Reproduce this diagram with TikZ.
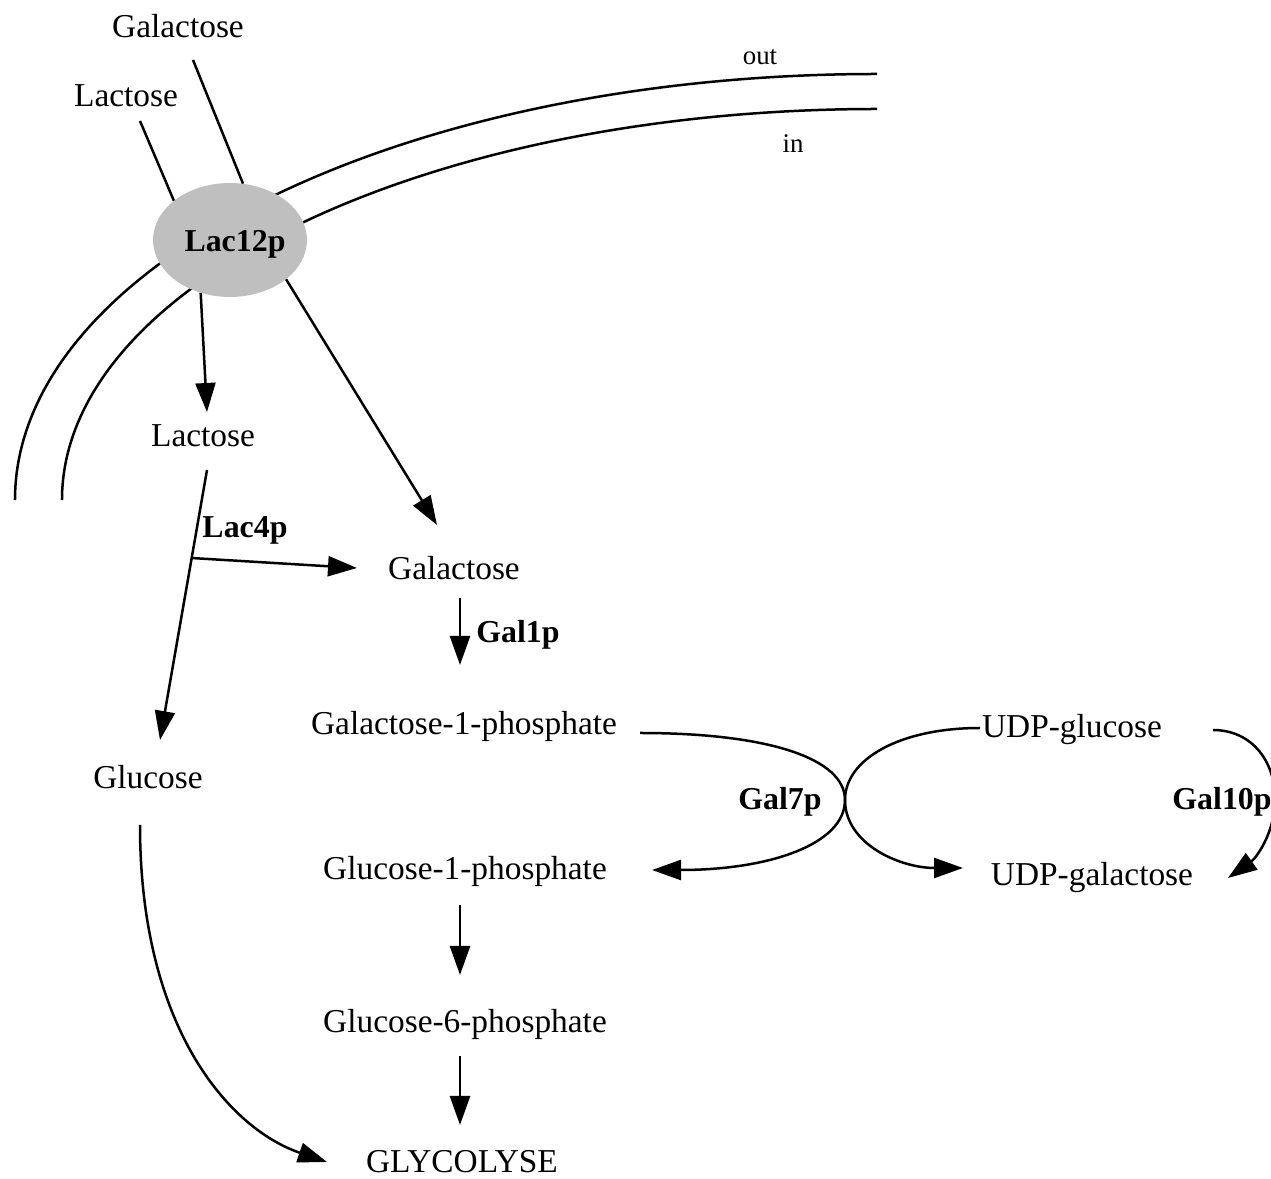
\documentclass[tikz,border=0pt]{standalone}
\usepackage{fontspec}
\setmainfont{Liberation Serif}
\usetikzlibrary{arrows.meta,calc,shapes.geometric}
\begin{document}
\begin{tikzpicture}[x=1bp,y=1bp,
  lbl/.style={inner sep=0pt, anchor=base, font=\fontsize{33.5}{38}\selectfont},
  enz/.style={inner sep=0pt, anchor=base, font=\fontsize{32}{38}\selectfont\bfseries},
  smalllbl/.style={inner sep=0pt, anchor=base, font=\fontsize{27}{32}\selectfont},
  ln/.style={line width=2.5bp},
  arr/.style={ln, -{Triangle[length=29bp,width=20bp]}},
]
\useasboundingbox (0,0) rectangle (1271,1179);

% membrane
\draw[ln] (877,1105) arc[start angle=90,end angle=180,x radius=862bp,y radius=426bp];
\draw[ln] (877,1070) arc[start angle=90,end angle=180,x radius=815bp,y radius=391bp];
\node[smalllbl] (out) at (760,1114) {out};
\node[smalllbl] (in) at (793,1026) {in};

% transporter
\node[ellipse, fill=black!25, minimum width=154bp, minimum height=114bp, inner sep=0pt] (lac12) at (230,939) {};
\node[enz] (lac12t) at (235,927) {Lac12p};

% labels
\node[lbl] (galtop) at (178,1141) {Galactose};
\node[lbl] (lactop) at (126,1072) {Lactose};
\node[lbl] (lacin) at (203,732) {Lactose};
\node[enz] (lac4) at (245,641) {Lac4p};
\node[lbl] (galmid) at (454,599) {Galactose};
\node[enz] (gal1) at (518,536) {Gal1p};
\node[lbl] (gal1ph) at (464,444) {Galactose-1-phosphate};
\node[lbl] (udpglc) at (1072,441) {UDP-glucose};
\node[enz] (gal7) at (780,369) {Gal7p};
\node[enz] (gal10) at (1222,369) {Gal10p};
\node[lbl] (glucose) at (148,390) {Glucose};
\node[lbl] (glc1ph) at (465,299) {Glucose-1-phosphate};
\node[lbl] (udpgal) at (1092,293) {UDP-galactose};
\node[lbl] (glc6ph) at (465,146) {Glucose-6-phosphate};
\node[lbl] (glyc) at (462,6) {GLYCOLYSE};

% uptake
\draw[ln] ([shift={(15,-22)}]galtop.base) -- (lac12.77);
\draw[ln] ([shift={(14,-14)}]lactop.base) -- (lac12.145);
\draw[arr] (lac12.241) -- ([shift={(4,35)}]lacin.base);
\draw[arr] (lac12.325) -- ([shift={(-17,55)}]galmid.base);

% Lac4p
\coordinate (lacA) at ([shift={(4,-23)}]lacin.base);
\coordinate (lacB) at ([shift={(12,49)}]glucose.base);
\draw[arr] (lacA) -- (lacB);
\coordinate (br) at ($(lacA)!0.326!(lacB)$);
\draw[arr] (br) -- ([shift={(-97,12)}]galmid.base);

% Gal1p
\draw[arr] ([shift={(6,-18)}]galmid.base) -- ([shift={(6,-85)}]galmid.base);

% Gal7p
\draw[arr] ([shift={(176,2)}]gal1ph.base) .. controls (770,446) and (845,420) .. (845,379)
   .. controls (845,335) and (770,309) .. ([shift={(187,10)}]glc1ph.base);
\draw[arr] ([shift={(-92,10)}]udpglc.base) .. controls (900,451) and (845,420) .. (845,379)
   .. controls (845,335) and (900,311) .. ([shift={(-129,18)}]udpgal.base);

% Gal10p
\draw[arr] ([shift={(141,8)}]udpglc.base) .. controls (1250,449) and (1275,420) .. (1275,380)
   .. controls (1275,345) and (1255,320) .. ([shift={(136,8)}]udpgal.base);

% glycolysis
\draw[arr] ([shift={(-5,-25)}]glc1ph.base) -- ([shift={(-5,58)}]glc6ph.base);
\draw[arr] ([shift={(-5,-23)}]glc6ph.base) -- ([shift={(-2,48)}]glyc.base);
\draw[arr] ([shift={(-8,-36)}]glucose.base) .. controls (140,150) and (230,50) .. ([shift={(-135,11)}]glyc.base);
\end{tikzpicture}
\end{document}
